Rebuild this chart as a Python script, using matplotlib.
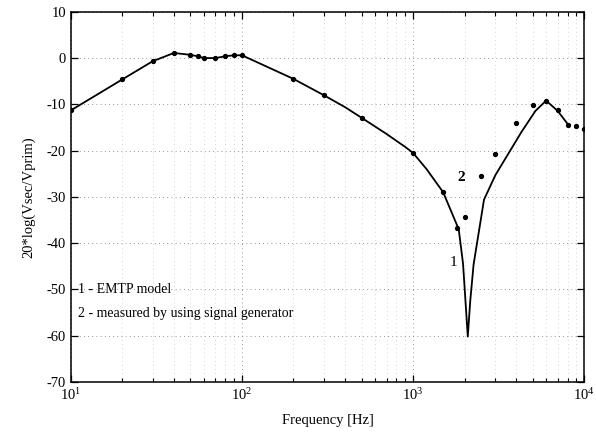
import matplotlib
matplotlib.use("Agg")
import matplotlib.pyplot as plt
from matplotlib.ticker import LogLocator, LogFormatterMathtext, NullFormatter

plt.rcParams['font.family'] = ['Liberation Serif', 'DejaVu Serif']
plt.rcParams['mathtext.fontset'] = 'stix'
plt.rcParams['axes.unicode_minus'] = False

# EMTP model (solid line)
emtp_freq = [10, 20, 30, 40, 50, 55, 60, 70, 80, 90, 100, 200, 300, 400, 500, 700, 800,
             900, 1000, 1200, 1500, 1850, 1960, 2030, 2090, 2160, 2260, 2600, 3030,
             3630, 4300, 5200, 6000, 7000, 8000]
emtp_db = [-11.3, -4.6, -0.7, 1.1, 0.7, 0.4, 0.0, 0.0, 0.4, 0.6, 0.6, -4.5, -8.0, -10.6,
           -12.9, -16.4, -17.9, -19.2, -20.5, -24.0, -29.0, -37.0, -44.4, -53.0, -60.2,
           -52.5, -44.6, -30.6, -25.3, -20.5, -16.0, -11.4, -9.2, -11.4, -14.2]

# Measured by using signal generator (dots)
meas_freq = [10, 20, 30, 40, 50, 55, 60, 70, 80, 90, 100, 200, 300, 500, 1000, 1500,
             1800, 2000, 2500, 3000, 4000, 5000, 6000, 7000, 8000, 9000, 10000]
meas_db = [-11.3, -4.6, -0.7, 1.1, 0.7, 0.4, 0.0, 0.0, 0.4, 0.6, 0.6, -4.5, -8.0, -12.9,
           -20.5, -29.0, -36.8, -34.4, -25.5, -20.8, -14.0, -10.2, -9.2, -11.3, -14.4,
           -14.6, -15.3]

yticks = [10, 0, -10, -20, -30, -40, -50, -60, -70]
legend_lines = ["1 - EMTP model", "2 - measured by using signal generator"]

fig = plt.figure(figsize=(5.96, 4.37), dpi=100)
ax = fig.add_axes([0.119, 0.126, 0.861, 0.847])

ax.semilogx(emtp_freq, emtp_db, color='black', lw=1.3)
ax.semilogx(meas_freq, meas_db, linestyle='none', marker='o', ms=2.8, color='black')

ax.set_xlim(10, 10000)
ax.set_ylim(-70, 10)
ax.set_yticks(yticks)
ax.xaxis.set_major_locator(LogLocator(base=10, numticks=10))
ax.xaxis.set_major_formatter(LogFormatterMathtext())
ax.xaxis.set_minor_locator(LogLocator(base=10, subs=range(2, 10), numticks=20))
ax.xaxis.set_minor_formatter(NullFormatter())

ax.tick_params(which='both', direction='in', top=True, right=True, labelsize=10.5)
ax.tick_params(which='major', length=5, width=0.9)
ax.tick_params(which='minor', length=3, width=0.8)
ax.grid(True, which='major', axis='both', color='#777777', lw=0.6, linestyle=(0, (1, 4)))
ax.grid(True, which='minor', axis='x', color='#aaaaaa', lw=0.5, linestyle=(0, (1, 5)))
for s in ax.spines.values():
    s.set_linewidth(1.1)

ax.set_xlabel("Frequency [Hz]", fontsize=10.5, labelpad=8)
ax.set_ylabel("20*log(Vsec/Vprim)", fontsize=10.5, labelpad=8)

ax.text(11.0, -50, legend_lines[0], fontsize=10, va='center', ha='left')
ax.text(11.0, -55.2, legend_lines[1], fontsize=10, va='center', ha='left')

ax.text(1900, -25.8, "2", fontsize=11, va='center', ha='center', fontweight='bold')
ax.text(1720, -44.2, "1", fontsize=11, va='center', ha='center')

fig.savefig("out.png", dpi=100)
